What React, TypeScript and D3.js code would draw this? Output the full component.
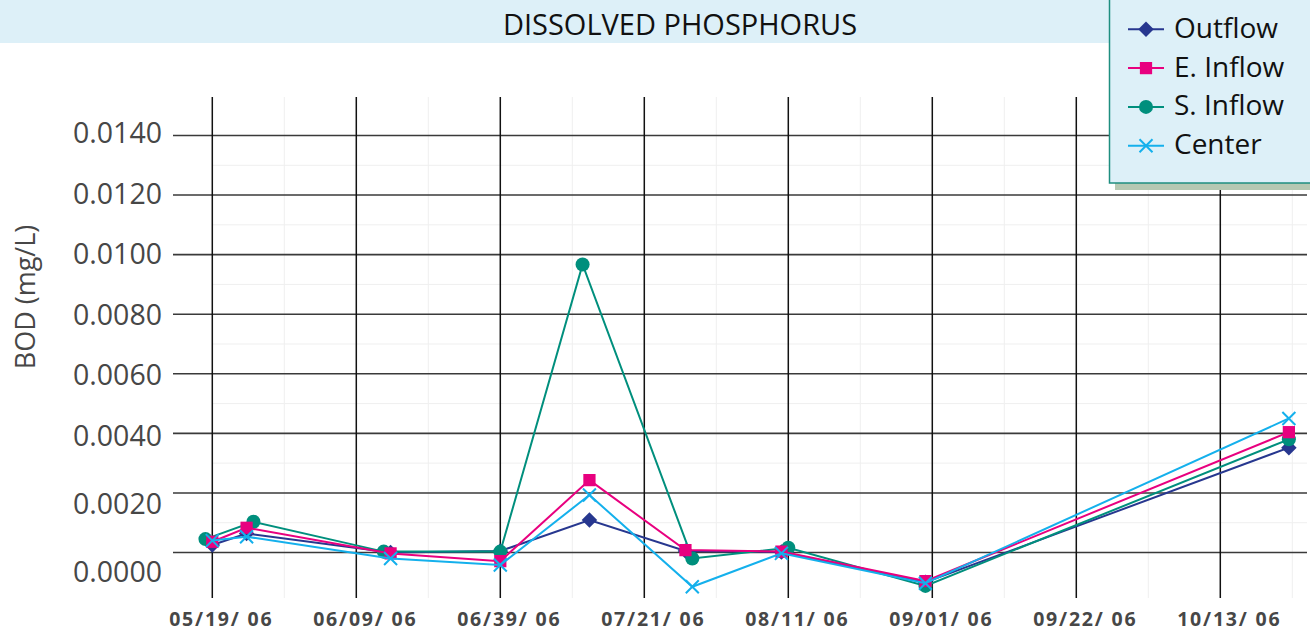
import React from "react";
import * as d3 from "d3";

type Point = [string, number];

// sampling dates (mm/dd/yy) and dissolved phosphorus readings
const outflow: Point[] = [
  ["05/19/06", 0.00025],
  ["05/24/06", 0.00064],
  ["06/14/06", 0.0],
  ["06/30/06", 0.00005],
  ["07/13/06", 0.00109],
  ["07/27/06", 0.00005],
  ["08/10/06", 0.00002],
  ["08/31/06", -0.001],
  ["10/23/06", 0.00352],
];

const eInflow: Point[] = [
  ["05/19/06", 0.00036],
  ["05/24/06", 0.00083],
  ["06/14/06", -0.00003],
  ["06/30/06", -0.00029],
  ["07/13/06", 0.00243],
  ["07/27/06", 0.00008],
  ["08/10/06", 0.00003],
  ["08/31/06", -0.00096],
  ["10/23/06", 0.00404],
];

const sInflow: Point[] = [
  ["05/18/06", 0.00045],
  ["05/25/06", 0.00103],
  ["06/13/06", 0.00003],
  ["06/30/06", 0.00003],
  ["07/12/06", 0.00967],
  ["07/28/06", -0.0002],
  ["08/11/06", 0.00016],
  ["08/31/06", -0.00112],
  ["10/23/06", 0.0038],
];

const center: Point[] = [
  ["05/19/06", 0.0004],
  ["05/24/06", 0.00053],
  ["06/14/06", -0.0002],
  ["06/30/06", -0.00042],
  ["07/13/06", 0.00193],
  ["07/28/06", -0.00115],
  ["08/10/06", -0.00003],
  ["08/31/06", -0.00103],
  ["10/23/06", 0.0045],
];

const tickDates = ["05/19/06", "06/09/06", "06/30/06", "07/21/06", "08/11/06", "09/01/06", "09/22/06", "10/13/06"];
const tickLabels = ["05/19/ 06", "06/09/ 06", "06/39/ 06", "07/21/ 06", "08/11/ 06", "09/01/ 06", "09/22/ 06", "10/13/ 06"];
const yTicks = [0, 0.002, 0.004, 0.006, 0.008, 0.01, 0.012, 0.014];
const yMinorTicks = [0.001, 0.003, 0.005, 0.007, 0.009, 0.011, 0.013];

const seriesNames = ["Outflow", "E. Inflow", "S. Inflow", "Center"];

const FONT = "'Open Sans', 'DejaVu Sans', sans-serif";

type Marker = "diamond" | "square" | "circle" | "x";

const series: { name: string; data: Point[]; color: string; marker: Marker }[] = [
  { name: seriesNames[0], data: outflow, color: "#27378f", marker: "diamond" },
  { name: seriesNames[2], data: sInflow, color: "#008f7d", marker: "circle" },
  { name: seriesNames[1], data: eInflow, color: "#e8007f", marker: "square" },
  { name: seriesNames[3], data: center, color: "#14b0ec", marker: "x" },
];

const markerPath: Record<Marker, string> = {
  diamond: d3.symbol(d3.symbolSquare, 120)()!,
  square: d3.symbol(d3.symbolSquare, 150)()!,
  circle: d3.symbol(d3.symbolCircle, 155)()!,
  x: "M-6.5,-6.5L6.5,6.5M-6.5,6.5L6.5,-6.5",
};

function MarkerShape({ kind, color, cx, cy }: { kind: Marker; color: string; cx: number; cy: number }) {
  if (kind === "x") {
    return <path d={markerPath.x} transform={`translate(${cx},${cy})`} fill="none" stroke={color} strokeWidth={2} />;
  }
  const rot = kind === "diamond" ? " rotate(45)" : "";
  return <path d={markerPath[kind]} transform={`translate(${cx},${cy})${rot}`} fill={color} />;
}

export default function App() {
  const width = 1310;
  const height = 633;
  const parse = d3.timeParse("%m/%d/%y");

  const plotTop = 97;
  const plotBottom = 598;
  const gridLeft = 173;
  const gridRight = 1307;

  const x = d3
    .scaleTime()
    .domain([parse(tickDates[0])!, parse(tickDates[tickDates.length - 1])!])
    .range([212.3, 1220.3]);

  const y = d3.scaleLinear().domain([0, 0.014]).range([552.5, 135.5]);

  // tick labels in the original sit a little off their gridlines
  const yLabel = d3.scaleLinear().domain([0, 0.002, 0.004, 0.014]).range([582, 514, 446, 143]);

  const line = d3
    .line<Point>()
    .x((d) => x(parse(d[0])!))
    .y((d) => y(d[1]));

  const tickX = tickDates.map((d) => x(parse(d)!));
  const minorX: number[] = [];
  tickX.forEach((tx, i) => {
    const next = i < tickX.length - 1 ? tickX[i + 1] : tx + (tx - tickX[i - 1]);
    const mid = (tx + next) / 2;
    if (mid < gridRight) minorX.push(mid);
  });

  const legendRow = (i: number) => 29.3 + i * 38.8;

  return (
    <svg
      width={width}
      height={height}
      style={{ position: "absolute", left: 0, top: 0, background: "#fff" }}
      fontFamily={FONT}
    >
      {/* minor grid */}
      <g stroke="#efefef" strokeWidth={1}>
        {minorX.map((mx, i) => (
          <line key={"mx" + i} x1={mx} x2={mx} y1={plotTop} y2={plotBottom} />
        ))}
        {yMinorTicks.map((v) => (
          <line key={"my" + v} x1={212} x2={gridRight} y1={y(v)} y2={y(v)} />
        ))}
      </g>

      {/* major grid */}
      <g>
        {yTicks.map((v) => (
          <line key={"y" + v} x1={gridLeft} x2={gridRight} y1={y(v)} y2={y(v)} stroke="#3a3a3a" strokeWidth={1.6} />
        ))}
        {tickX.map((tx, i) => (
          <line key={"x" + i} x1={tx} x2={tx} y1={plotTop} y2={plotBottom} stroke="#111" strokeWidth={1.5} />
        ))}
      </g>

      {/* series */}
      {series.map((s) => (
        <g key={s.name}>
          <path d={line(s.data)!} fill="none" stroke={s.color} strokeWidth={2} />
          {s.data.map((d, i) => (
            <MarkerShape key={i} kind={s.marker} color={s.color} cx={x(parse(d[0])!)} cy={y(d[1])} />
          ))}
        </g>
      ))}

      {/* y tick labels */}
      <g fontSize={28.5} fill="#474747" textAnchor="end">
        {yTicks.map((v) => (
          <text key={v} x={162} y={yLabel(v)}>
            {v.toFixed(4)}
          </text>
        ))}
      </g>

      {/* x tick labels */}
      <g fontSize={19.5} fontWeight="bold" fill="#474747" textAnchor="middle" letterSpacing={1.8}>
        {tickLabels.map((t, i) => (
          <text key={t} x={tickX[i] + 9} y={626}>
            {t}
          </text>
        ))}
      </g>

      {/* y axis title */}
      <text
        transform="translate(24,297) rotate(-90)"
        textAnchor="middle"
        dominantBaseline="central"
        fontSize={27}
        fill="#474747"
      >
        BOD (mg/L)
      </text>

      {/* title band */}
      <rect x={0} y={0} width={1109} height={43} fill="#ddf0f8" />
      <text x={680} y={35} textAnchor="middle" fontSize={29} fill="#111">
        DISSOLVED PHOSPHORUS
      </text>

      {/* legend */}
      <rect x={1115} y={183} width={200} height={7} fill="#b6c8b2" />
      <rect x={1109.5} y={-2} width={210} height={185} fill="#ddf0f8" stroke="#1e8e80" strokeWidth={1.5} />
      {seriesNames.map((name, i) => {
        const s = series.find((d) => d.name === name)!;
        const ly = legendRow(i);
        return (
          <g key={name}>
            <line x1={1128} x2={1164} y1={ly} y2={ly} stroke={s.color} strokeWidth={2} />
            <MarkerShape kind={s.marker} color={s.color} cx={1146} cy={ly} />
            <text x={1174} y={ly + 8.5} fontSize={28} fill="#111">
              {name}
            </text>
          </g>
        );
      })}
    </svg>
  );
}
